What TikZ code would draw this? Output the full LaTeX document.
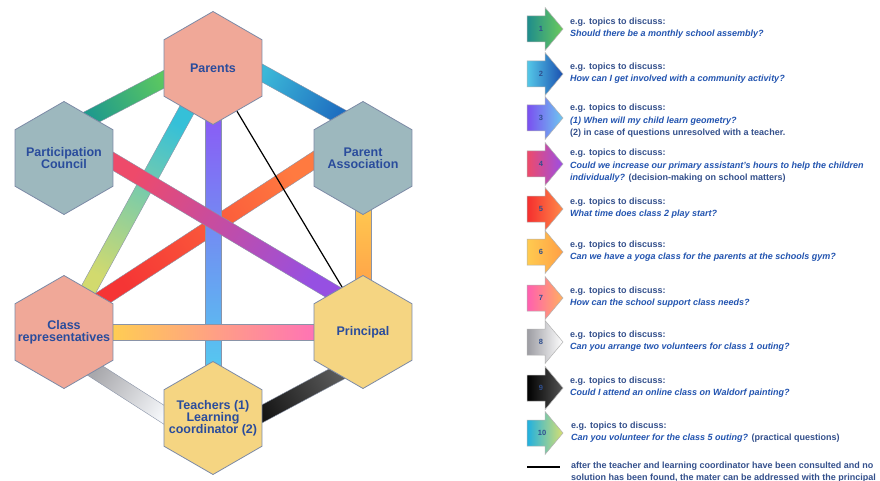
\documentclass[tikz,border=0pt]{standalone}
\usepackage{fontspec}
\setmainfont{Liberation Sans}
\usetikzlibrary{shapes.geometric,calc}
\pgfdeclarelayer{bg}
\pgfdeclarelayer{paper}
\pgfsetlayers{paper,bg,main}
\definecolor{hexline}{HTML}{7C8AA6}
\definecolor{salmon}{HTML}{F0A898}
\definecolor{slate}{HTML}{9DB8BE}
\definecolor{sand}{HTML}{F5D582}
\definecolor{hextext}{HTML}{2A4C9C}
\definecolor{navy}{HTML}{34508C}
\definecolor{qblue}{HTML}{2254B0}
\definecolor{barline}{HTML}{8A94A8}
\definecolor{numcol}{HTML}{2F4F8F}
% bar colours
\definecolor{bOneA}{HTML}{5CC860}\definecolor{bOneB}{HTML}{1F9A8C}
\definecolor{bTwoA}{HTML}{3CB8D8}\definecolor{bTwoB}{HTML}{1E6EC0}
\definecolor{bThrA}{HTML}{35C0D8}\definecolor{bThrB}{HTML}{D2DA6E}
\definecolor{bFouA}{HTML}{EE4A6A}\definecolor{bFouB}{HTML}{9650E2}
\definecolor{bFivA}{HTML}{FF7A40}\definecolor{bFivB}{HTML}{F53535}
\definecolor{bSixA}{HTML}{FFC850}\definecolor{bSixB}{HTML}{FFA448}
\definecolor{bVerA}{HTML}{8A5CF5}\definecolor{bVerB}{HTML}{55C8F0}
\definecolor{bSevA}{HTML}{FFD050}\definecolor{bSevB}{HTML}{FF70B8}
\definecolor{bEigA}{HTML}{A8A8AC}\definecolor{bEigB}{HTML}{F5F7FA}
\definecolor{bNinA}{HTML}{151515}\definecolor{bNinB}{HTML}{5A5A5A}
% legend arrow colours
\definecolor{aOneA}{HTML}{1E8C8C}\definecolor{aOneB}{HTML}{6CCB5C}
\definecolor{aTwoA}{HTML}{55C8E8}\definecolor{aTwoB}{HTML}{1A4FB0}
\definecolor{aThrA}{HTML}{7A4FF0}\definecolor{aThrB}{HTML}{6EC8F0}
\definecolor{aFouA}{HTML}{EE4A6A}\definecolor{aFouB}{HTML}{9A4FE6}
\definecolor{aFivA}{HTML}{F52E2E}\definecolor{aFivB}{HTML}{FF8A4A}
\definecolor{aSixA}{HTML}{FFCB50}\definecolor{aSixB}{HTML}{FF9F45}
\definecolor{aSevA}{HTML}{FF5FB0}\definecolor{aSevB}{HTML}{FFB060}
\definecolor{aEigA}{HTML}{9C9CA2}\definecolor{aEigB}{HTML}{FFFFFF}
\definecolor{aNinA}{HTML}{000000}\definecolor{aNinB}{HTML}{555555}
\definecolor{aTenA}{HTML}{20B0E0}\definecolor{aTenB}{HTML}{D8E070}
\tikzset{
  hexa/.style={regular polygon, regular polygon sides=6, shape border rotate=30,
    minimum size=113pt, inner sep=0pt, draw=hexline, line width=0.8pt},
  hexlab/.style={inner sep=0pt, text=hextext, align=center,
    font=\bfseries\fontsize{12.5}{12}\selectfont},
  legtext/.style={anchor=west, inner sep=0pt, align=left, text=navy,
    font=\bfseries\fontsize{9}{12.5}\selectfont},
  numtext/.style={inner sep=0pt, text=numcol, font=\bfseries\fontsize{7.5}{8}\selectfont},
  barstyle/.style={draw=barline, line width=0.4pt}
}
\newcommand\gradbar[4]{%
  \coordinate (ga) at ($(#1)!-8pt!(#2)$);
  \coordinate (gb) at ($(#2)!-8pt!(#1)$);
  \path let \p1=($(gb)-(ga)$), \n1={atan2(\y1,\x1)} in
    \pgfextra{\pgfmathparse{\n1+90}\xdef\barang{\pgfmathresult}};
  \path[barstyle, left color=#3, right color=#4, shading angle=\barang]
    ($(ga)!8pt!90:(gb)$) -- ($(gb)!8pt!-90:(ga)$) -- ($(gb)!8pt!90:(ga)$) -- ($(ga)!8pt!-90:(gb)$) -- cycle;
}
\newcommand\legarrow[3]{%
  \path[draw=gray!60, line width=0.5pt, left color=#2, right color=#3]
    (527,#1-13) -- (545,#1-13) -- (545,#1-21.5) -- (563,#1) -- (545,#1+21.5) -- (545,#1+13) -- (527,#1+13) -- cycle;
}
\newcommand\qi[1]{\textcolor{qblue}{\itshape #1}}
\begin{document}
\begin{tikzpicture}[x=1pt,y=-1pt]
\useasboundingbox (0,0) rectangle (880,481);
\begin{pgfonlayer}{paper}
\fill[white] (0,0) rectangle (880,481);
\end{pgfonlayer}
% hexagons
\node[hexa, fill=salmon, label={[hexlab]center:Parents}] (par) at (213,68) {};
\node[hexa, fill=slate, label={[hexlab]center:Participation\\Council}] (cou) at (64,158) {};
\node[hexa, fill=slate, label={[hexlab]center:Parent\\Association}] (pa) at (363,158) {};
\node[hexa, fill=salmon, label={[hexlab]center:Class\\representatives}] (cr) at (64,332) {};
\node[hexa, fill=sand, label={[hexlab]center:Principal}] (pri) at (363,332) {};
\node[hexa, fill=sand, label={[hexlab]center:Teachers (1)\\Learning\\coordinator (2)}] (tea) at (213,418) {};
% bars
\begin{pgfonlayer}{bg}
\gradbar{par.193.8}{cou.56.6}{bOneA}{bOneB}
\gradbar{par.-6.8}{pa.120.8}{bTwoA}{bTwoB}
\gradbar{pa.270}{pri.90}{bSixA}{bSixB}
\gradbar{cr.-51}{tea.176}{bEigA}{bEigB}
\gradbar{tea.5}{pri.238}{bNinA}{bNinB}
\gradbar{pa.183.4}{cr.41}{bFivA}{bFivB}
\gradbar{par.238.8}{cr.60.8}{bThrA}{bThrB}
\gradbar{par.270}{tea.90}{bVerA}{bVerB}
\gradbar{cr.0}{pri.180}{bSevA}{bSevB}
\gradbar{cou.-4.7}{pri.127.6}{bFouA}{bFouB}
\draw[line width=1.2pt, black] (par.-61) -- (pri.115);
\end{pgfonlayer}
% legend
\legarrow{29}{aOneA}{aOneB}
\legarrow{74}{aTwoA}{aTwoB}
\legarrow{118}{aThrA}{aThrB}
\legarrow{164}{aFouA}{aFouB}
\legarrow{209}{aFivA}{aFivB}
\legarrow{252}{aSixA}{aSixB}
\legarrow{298}{aSevA}{aSevB}
\legarrow{342}{aEigA}{aEigB}
\legarrow{388}{aNinA}{aNinB}
\legarrow{433}{aTenA}{aTenB}
\node[numtext] (n1) at (541,29) {1};
\node[numtext] (n2) at (541,74) {2};
\node[numtext] (n3) at (541,118) {3};
\node[numtext] (n4) at (541,164) {4};
\node[numtext] (n5) at (541,209) {5};
\node[numtext] (n6) at (541,252) {6};
\node[numtext] (n7) at (541,298) {7};
\node[numtext] (n8) at (541,342) {8};
\node[numtext] (n9) at (541,388) {9};
\node[numtext] (n10) at (542,433) {10};
\node[legtext] (t1) at (570,28) {e.g. topics to discuss:\\\qi{Should there be a monthly school assembly?}};
\node[legtext] (t2) at (570,73) {e.g. topics to discuss:\\\qi{How can I get involved with a community activity?}};
\node[legtext] (t3) at (570,121) {e.g. topics to discuss:\\\qi{(1) When will my child learn geometry?}\\(2) in case of questions unresolved with a teacher.};
\node[legtext] (t4) at (570,166) {e.g. topics to discuss:\\\qi{Could we increase our primary assistant's hours to help the children}\\\qi{individually?} (decision-making on school matters)};
\node[legtext] (t5) at (570,208) {e.g. topics to discuss:\\\qi{What time does class 2 play start?}};
\node[legtext] (t6) at (570,251) {e.g. topics to discuss:\\\qi{Can we have a yoga class for the parents at the schools gym?}};
\node[legtext] (t7) at (570,297) {e.g. topics to discuss:\\\qi{How can the school support class needs?}};
\node[legtext] (t8) at (570,341) {e.g. topics to discuss:\\\qi{Can you arrange two volunteers for class 1 outing?}};
\node[legtext] (t9) at (570,387) {e.g. topics to discuss:\\\qi{Could I attend an online class on Waldorf painting?}};
\node[legtext] (t10) at (571,432) {e.g. topics to discuss:\\\qi{Can you volunteer for the class 5 outing?} (practical questions)};
\coordinate (la) at (527,467);
\coordinate (lb) at (560,467);
\draw[line width=2.5pt, black] (la) -- (lb);
\node[legtext, font=\bfseries\fontsize{9}{11.5}\selectfont] (t11) at (571,472) {after the teacher and learning coordinator have been consulted and no\\solution has been found, the mater can be addressed with the principal};
\end{tikzpicture}
\end{document}
